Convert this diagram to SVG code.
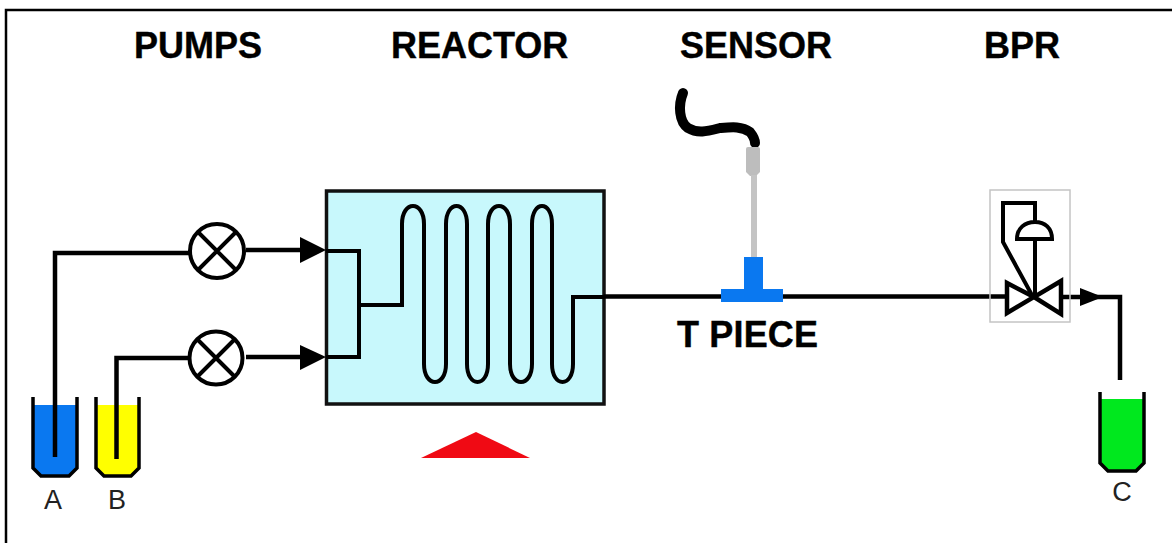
<svg xmlns="http://www.w3.org/2000/svg" width="1172" height="543" viewBox="0 0 1172 543">
<defs>
<style>
.line{fill:none;stroke:#000;stroke-width:4.500;stroke-linejoin:miter}
.thin{fill:none;stroke:#000;stroke-width:4}
.head{fill:#000;stroke:none}
.beaker{fill:none;stroke:#000;stroke-width:3.500}
.pump{fill:#fff;stroke:#000;stroke-width:4}
.title{font-family:"Liberation Sans",Arial,sans-serif;font-weight:bold;font-size:36px;fill:#000;stroke:#000;stroke-width:.4}
.tag{font-family:"Liberation Sans",Arial,sans-serif;font-size:27px;fill:#222;text-anchor:middle}
</style>
</defs>
<rect width="1172" height="543" fill="#fff"/>
<path d="M6 543V10H1172" fill="none" stroke="#000" stroke-width="2.500"/>
<text class="title" x="134" y="57.500">PUMPS</text>
<text class="title" x="391" y="57.500">REACTOR</text>
<text class="title" x="680" y="57.500">SENSOR</text>
<text class="title" x="984" y="57.500">BPR</text>
<text class="title" x="677" y="347" textLength="141">T PIECE</text>
<g id="reactor"><rect x="326.500" y="191" width="277.500" height="213" fill="#c8f8fc" stroke="#111" stroke-width="3.500"/></g>
<g id="heater"><polygon points="421,458 476,432 530,458" fill="#f00a14"/></g>
<g id="beaker-a"><path d="M33 405V468L41 476H69L77 468V405Z" fill="#0a78f0"/><path class="beaker" d="M33 397V468L41 476H69L77 468V397"/><text class="tag" x="53" y="509">A</text></g>
<g id="beaker-b"><path d="M96 405V468L104 476H131L139 468V405Z" fill="#ff0"/><path class="beaker" d="M96 397V468L104 476H131L139 468V397"/><text class="tag" x="117" y="509">B</text></g>
<g id="beaker-c"><path d="M1100 399V463L1108 471H1136L1144 463V399Z" fill="#00e81e"/><path class="beaker" d="M1100 392V463L1108 471H1136L1144 463V392"/><text class="tag" x="1122" y="501">C</text></g>
<g id="connectors">
<path class="line" d="M55 457V253H190"/>
<path class="line" d="M116.500 459V358H190"/>
<path class="line" d="M246 250H302"/>
<polygon class="head" points="300,237 326,250 300,263"/>
<path class="line" d="M246 357H302"/>
<polygon class="head" points="300,345 326,357 300,370"/>
<path class="thin" d="M326 251H359V357H326M359 305H402V224C402 200 424 200 424 224V364C424 388 446 388 446 364V224C446 200 467 200 467 224V364C467 388 488 388 488 364V224C488 200 510 200 510 224V364C510 388 532 388 532 364V224C532 200 552 200 552 224V364C552 388 573 388 573 364V297H604"/>
<path class="line" d="M604 296.500H1007"/>
<path class="line" d="M1061 297H1120V380"/>
<polygon class="head" points="1080,288 1103,297 1080,306"/>
</g>
<g id="sensor">
<path d="M683 93C678 105 679 122 688 128C698 134 708 131 720 128C732 127 742 126 750 132C754 137 755 140 755 143" fill="none" stroke="#000" stroke-width="10" stroke-linecap="round"/>
<path d="M746 149Q746 147 748 147H758Q760 147 760 149V172L756 176H750L746 172Z" fill="#bdbdbd"/>
<rect x="751" y="175" width="6" height="83" fill="#c4c4c4"/>
</g>
<g id="t-piece"><path d="M744 257H763V289H783V302H721V289H744Z" fill="#0a78f0"/></g>
<g id="pump-a"><circle class="pump" cx="217" cy="251" r="27"/><path class="thin" d="M198 232L236 270M236 232L198 270"/></g>
<g id="pump-b"><circle class="pump" cx="216" cy="358" r="26.500"/><path class="thin" d="M197.500 339.500L234.500 376.500M234.500 339.500L197.500 376.500"/></g>
<g id="bpr">
<rect x="990" y="190" width="80" height="132" fill="none" stroke="#c4c4c4" stroke-width="1.500"/>
<path class="line" d="M1007 283V313L1034 297ZM1061 281V314L1034 297Z" fill="#fff"/>
<path class="thin" d="M1035 297V239M1017 239H1052C1052 228 1045 222 1035 222C1025 222 1017 228 1017 239ZM1035 222V203H1003V242L1033 297"/>
</g>
</svg>
